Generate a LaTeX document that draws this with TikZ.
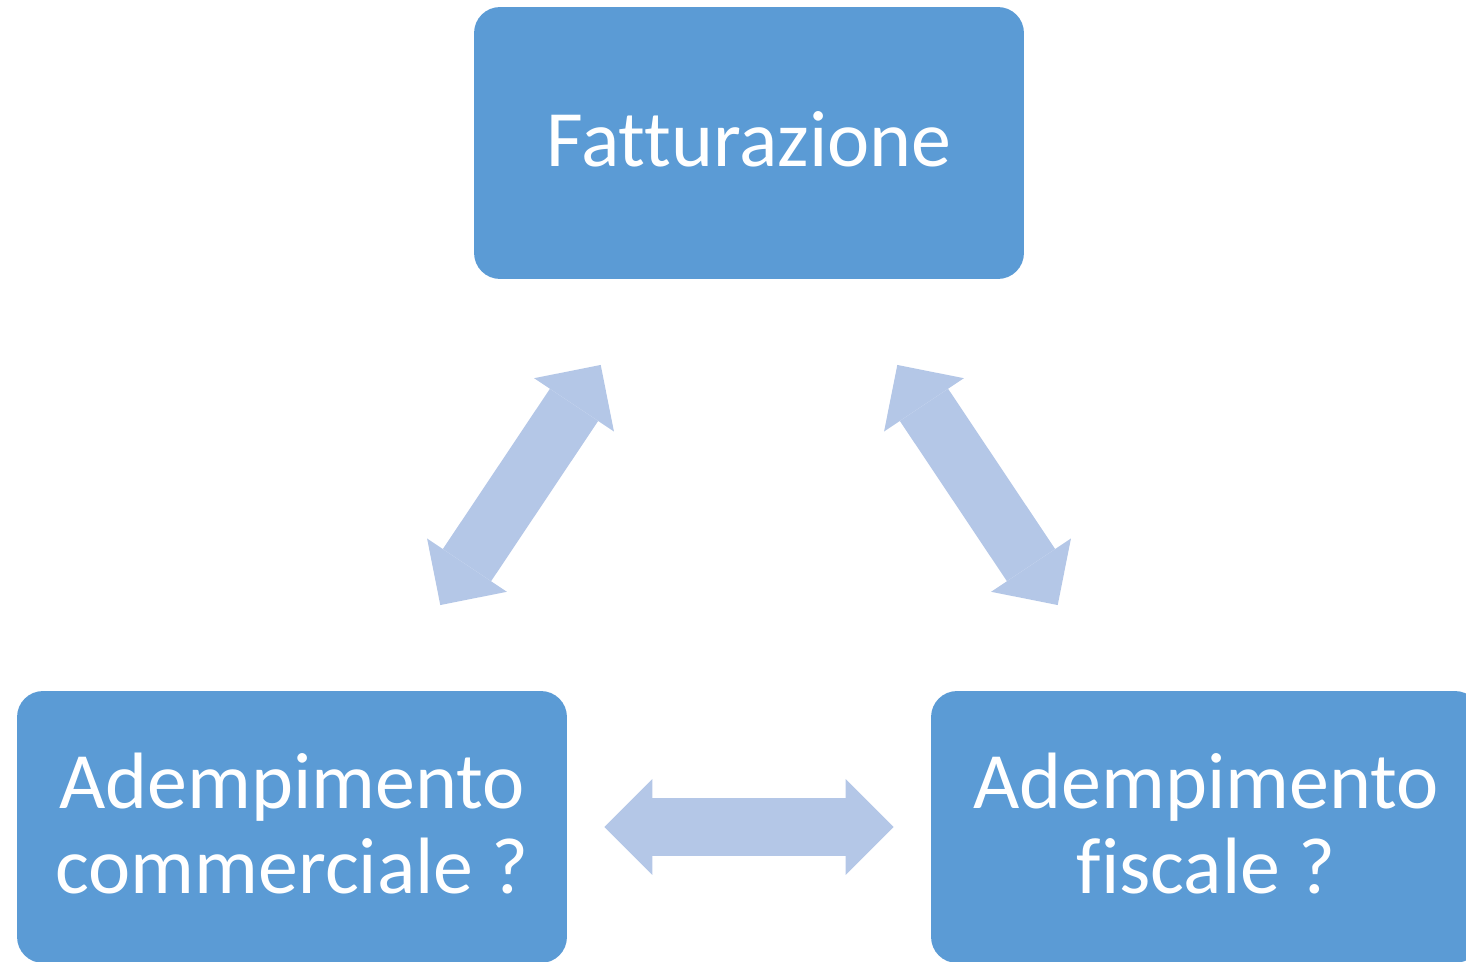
\documentclass[tikz,border=0pt]{standalone}
\usepackage{fontspec}
\setmainfont{Carlito}[Ligatures=NoCommon]
\usetikzlibrary{shapes,arrows.meta}
\definecolor{boxblue}{HTML}{5B9BD5}
\definecolor{linkblue}{HTML}{B4C7E7}
\tikzstyle{block} = [fill=boxblue, text=white, rounded corners=0.52cm, minimum width=11cm, minimum height=5.44cm, align=center, text depth=0.16cm, font=\fontsize{45.5}{48.5}\selectfont]
\tikzset{
  link/.style ={draw=linkblue, line width=1.16cm, {Triangle[length=0.96cm, width=1.92cm, line width=0pt]}-{Triangle[length=0.96cm, width=1.92cm, line width=0pt]}}
}

\begin{document}
\begin{tikzpicture}[x=0.02cm,y=-0.02cm]
  \clip (0,0) rectangle (1466,962);
  \node[block] (fatt) at (749,143) {Fatturazione};
  \node[block] (comm) at (292,827) {Adempimento\\commerciale ?};
  \node[block] (fisc) at (1206,827) {Adempimento\\fiscale ?};

  \draw[link, shorten <=5.34cm, shorten >=5.34cm] (comm.center) -- (fatt.center);
  \draw[link, shorten <=5.34cm, shorten >=5.34cm] (fatt.center) -- (fisc.center);
  \draw[link, shorten <=6.25cm, shorten >=6.25cm] (comm.center) -- (fisc.center);

\end{tikzpicture}
\end{document}
